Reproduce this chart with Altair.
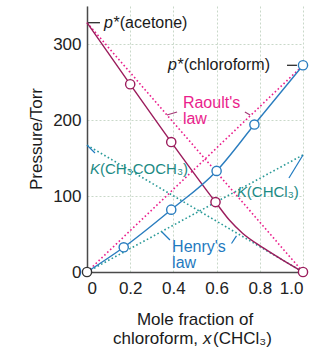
import altair as alt
import pandas as pd

# ---- values ----
# acetone partial pressure (solid curve); extra unmarked curve points included
x_acetone_line = [0.0, 0.20, 0.39, 0.595, 0.66, 0.72, 0.82, 0.91, 1.0]
p_acetone_line = [328, 247, 171, 92, 68, 51, 31, 15, 0]
# acetone measured points (circles)
x_acetone_pts = [0.20, 0.39, 0.595, 1.0]
p_acetone_pts = [247, 171, 92, 0]
# chloroform partial pressure (solid curve and circles)
x_chloro = [0.0, 0.17, 0.39, 0.60, 0.775, 1.0]
p_chloro = [0, 32.5, 82, 133, 194, 272]
# pure vapour pressures and Henry's constants
p_star_acetone = 328
p_star_chloro = 272
K_acetone = 167
K_chloro = 154
# axis ticks / grid
x_ticks = [0, 0.2, 0.4, 0.6, 0.8, 1.0]
y_grid = [0, 50, 100, 150, 200, 250, 300, 350]

FONT = "Liberation Sans"
C_ACE = "#9b1c5c"
C_CHL = "#2a7dbf"
C_RAO = "#ea1e8c"
C_HEN = "#2a9a98"
C_KTX = "#1c8a84"
C_HTX = "#1f7ac0"
C_TXT = "#1a1a1a"

W, H = 216, 266
xs = alt.Scale(domain=[0, 1], nice=False, zero=False)
ys = alt.Scale(domain=[0, 350], nice=False)

X = alt.X("x:Q", scale=xs, axis=alt.Axis(
    values=x_ticks, title=None, grid=True, ticks=False,
    labelExpr="datum.value == 0 ? '0' : format(datum.value, '.1f')",
    labelPadding=8))
Y = alt.Y("y:Q", scale=ys, axis=alt.Axis(
    values=y_grid, title=None, grid=True, ticks=False,
    labelExpr="datum.value % 100 == 0 ? datum.label : ''",
    labelPadding=6))

ace_line = pd.DataFrame({"x": x_acetone_line, "y": p_acetone_line})
ace_pts = pd.DataFrame({"x": x_acetone_pts, "y": p_acetone_pts})
chl = pd.DataFrame({"x": x_chloro, "y": p_chloro})

raoult = pd.DataFrame({
    "x": [0, 1, 0, 1],
    "y": [p_star_acetone, 0, 0, p_star_chloro],
    "s": ["a", "a", "c", "c"],
})
henry = pd.DataFrame({
    "x": [0, 1, 0, 1],
    "y": [K_acetone, 0, 0, K_chloro],
    "s": ["a", "a", "c", "c"],
})

base_axes = alt.Chart(chl).mark_point(opacity=0).encode(x=X, y=Y)

raoult_l = alt.Chart(raoult).mark_line(
    color=C_RAO, strokeDash=[1.6, 2.4], strokeWidth=1.6
).encode(x=alt.X("x:Q", scale=xs), y=alt.Y("y:Q", scale=ys), detail="s:N")
henry_l = alt.Chart(henry).mark_line(
    color=C_HEN, strokeDash=[1.6, 2.4], strokeWidth=1.6
).encode(x=alt.X("x:Q", scale=xs), y=alt.Y("y:Q", scale=ys), detail="s:N")

ace_l = alt.Chart(ace_line).mark_line(
    color=C_ACE, strokeWidth=1.4, interpolate="monotone"
).encode(x=alt.X("x:Q", scale=xs), y=alt.Y("y:Q", scale=ys))
chl_l = alt.Chart(chl).mark_line(
    color=C_CHL, strokeWidth=1.4, interpolate="monotone"
).encode(x=alt.X("x:Q", scale=xs), y=alt.Y("y:Q", scale=ys))

ace_p = alt.Chart(ace_pts).mark_point(
    shape="circle", size=85, fill="white", fillOpacity=1, strokeWidth=1.4,
    stroke=C_ACE, opacity=1
).encode(x=alt.X("x:Q", scale=xs), y=alt.Y("y:Q", scale=ys))
chl_p = alt.Chart(chl).mark_point(
    shape="circle", size=85, fill="white", fillOpacity=1, strokeWidth=1.4,
    opacity=1
).encode(
    x=alt.X("x:Q", scale=xs), y=alt.Y("y:Q", scale=ys),
    stroke=alt.condition(alt.datum.x == 0, alt.value("#333333"), alt.value(C_CHL)),
)


def rule(x1, y1, x2, y2, color, w=1.2):
    return alt.Chart().mark_rule(color=color, strokeWidth=w).encode(
        x=alt.datum(x1, scale=xs), y=alt.datum(y1, scale=ys),
        x2=alt.datum(x2), y2=alt.datum(y2))


def txt(x, y, s, color, align="left", italic=False, size=16):
    kw = dict(align=align, baseline="middle", font=FONT, fontSize=size,
              color=color, text=s)
    if italic:
        kw["fontStyle"] = "italic"
    return alt.Chart().mark_text(**kw).encode(
        x=alt.datum(x, scale=xs), y=alt.datum(y, scale=ys))


def ptxt(px, py, s, align="center", italic=False, angle=0, size=17):
    kw = dict(align=align, baseline="middle", font=FONT, fontSize=size,
              color=C_TXT, text=s)
    if italic:
        kw["fontStyle"] = "italic"
    if angle:
        kw["angle"] = angle
    return alt.Chart().mark_text(**kw).encode(x=alt.value(px), y=alt.value(py))


annots = [
    # p*(acetone)
    rule(0.005, p_star_acetone, 0.06, p_star_acetone, C_TXT, 1.2),
    txt(0.079, p_star_acetone, "p", C_TXT, italic=True),
    txt(0.123, p_star_acetone, "*(acetone)", C_TXT),
    # p*(chloroform)
    rule(0.926, p_star_chloro, 0.972, p_star_chloro, C_TXT, 1.2),
    txt(0.375, p_star_chloro, "p", C_TXT, italic=True),
    txt(0.419, p_star_chloro, "*(chloroform)", C_TXT),
    # Raoult's law
    txt(0.444, 222, "Raoult's", C_RAO),
    txt(0.444, 201, "law", C_RAO),
    rule(0.370, 206.6, 0.417, 210.5, "#a23a76"),
    rule(0.731, 210.5, 0.755, 206.6, "#a23a76"),
    # Henry's law
    txt(0.394, 33, "Henry's", C_HTX),
    txt(0.394, 12, "law", C_HTX),
    rule(0.347, 52.6, 0.384, 42.1, C_HTX),
    rule(0.669, 37.5, 0.692, 47.5, C_HTX),
    # K(CH3COCH3)
    txt(0.014, 135.5, "K", C_KTX, italic=True, size=15),
    txt(0.060, 135.5, "(CH\u2083COCH\u2083)", C_KTX, size=15),
    rule(0.0, 167, 0.037, 156.6, C_HTX),
    # K(CHCl3)
    txt(0.694, 105, "K", C_KTX, italic=True, size=15),
    txt(0.740, 105, "(CHCl\u2083)", C_KTX, size=15),
    rule(0.935, 123.7, 1.0, 154, C_HTX),
    # axis titles
    ptxt(-50, 133, "Pressure/Torr", angle=270),
    ptxt(108, 314, "Mole fraction of"),
    ptxt(26, 333, "chloroform,", align="left"),
    ptxt(116, 333, "x", align="left", italic=True),
    ptxt(126, 333, "(CHCl\u2083)", align="left"),
]

chart = alt.layer(
    base_axes, raoult_l, henry_l, ace_l, chl_l, ace_p, chl_p, *annots
).properties(
    width=W, height=H,
    autosize=alt.AutoSizeParams(type="none"),
    padding={"left": 87, "top": 6, "right": 23, "bottom": 79},
    background="white",
).configure_view(stroke="transparent").configure_axis(
    domainColor="#4a4a4a", domainWidth=1.5,
    gridColor="#c9d8c9", gridDash=[2, 2], gridWidth=1,
    labelFont=FONT, labelFontSize=17, labelColor="#222222",
)

chart.save("out.html", embed_options={"renderer": "svg", "actions": False})
